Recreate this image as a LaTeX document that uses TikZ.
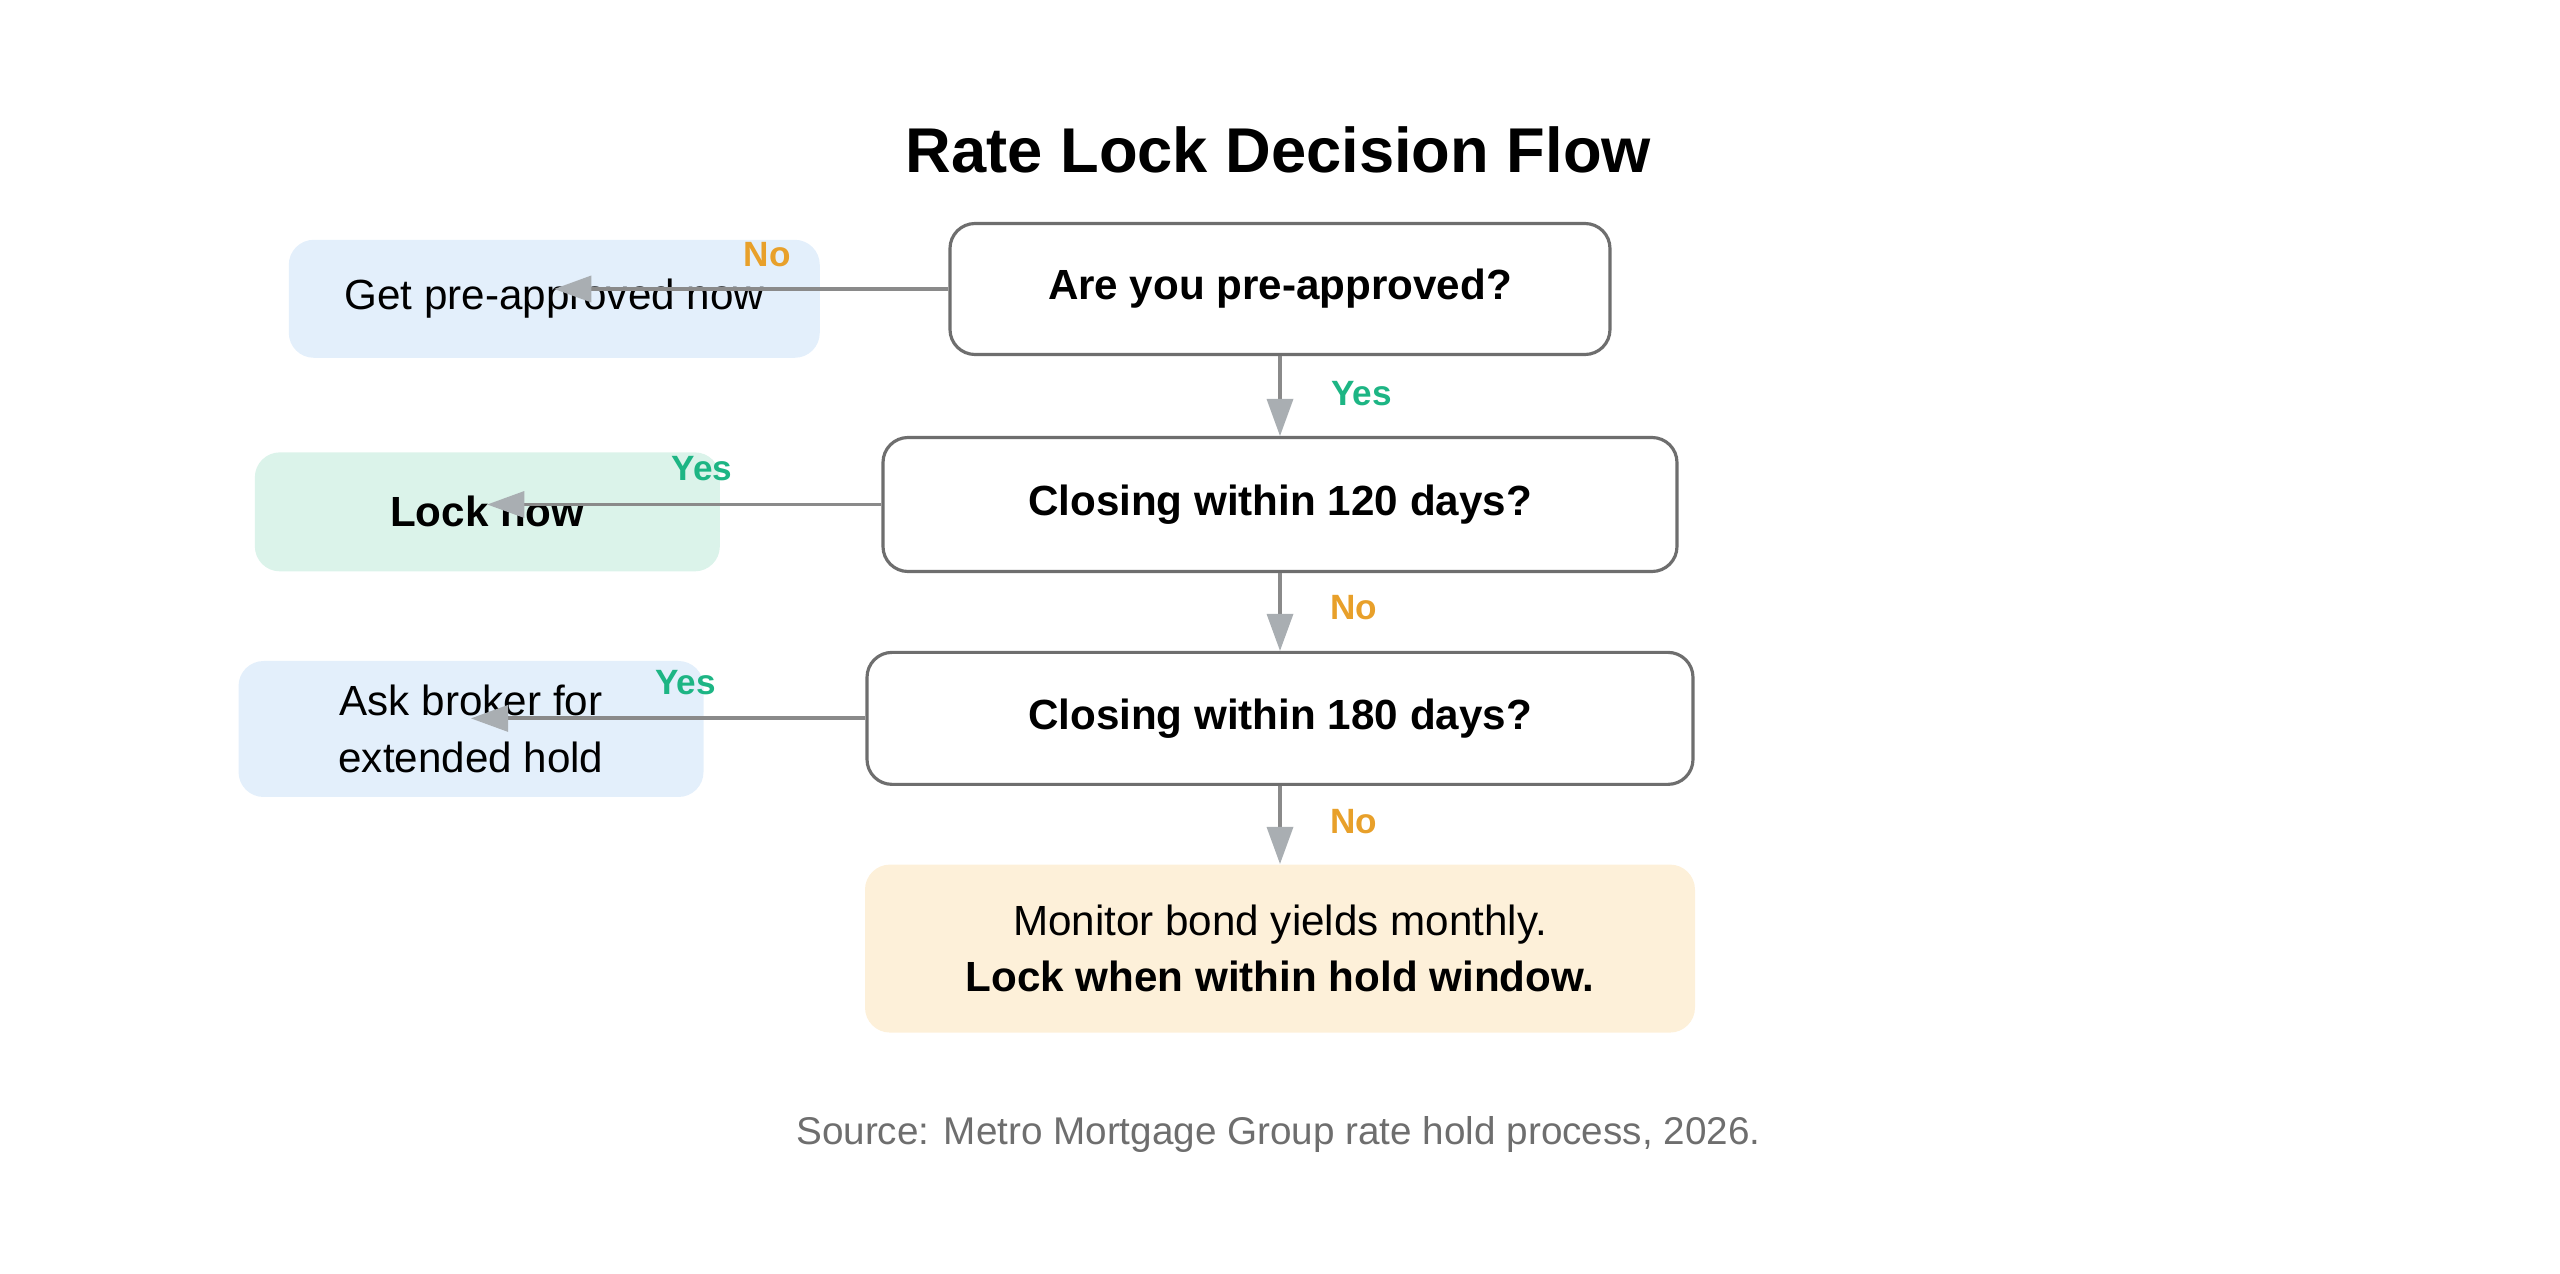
\documentclass[tikz,border=0pt]{standalone}
\usepackage{fontspec}
\setmainfont{Liberation Sans}
\usetikzlibrary{positioning,arrows.meta}
\definecolor{boxline}{HTML}{6E6E6E}
\definecolor{linkgray}{HTML}{8A8A8A}
\definecolor{headgray}{HTML}{A9AEB2}
\definecolor{askblue}{HTML}{E3EFFB}
\definecolor{lockgreen}{HTML}{DBF3EA}
\definecolor{endcream}{HTML}{FDF0D9}
\definecolor{yesgreen}{HTML}{1DB584}
\definecolor{noorange}{HTML}{E8A02A}
\tikzset{
  question/.style={draw=boxline,line width=0.9pt,fill=white,rounded corners=0.25cm,
    font=\fontsize{12}{14}\selectfont\bfseries,align=center},
  answer/.style={rounded corners=0.25cm,font=\fontsize{12}{16}\selectfont,align=center},
  link/.style={draw=linkgray,line width=1.1pt,
    -{Triangle[length=0.37cm,width=0.27cm,color=headgray,fill=headgray,line width=0pt]}},
  yeslabel/.style={text=yesgreen,font=\fontsize{10}{12}\selectfont\bfseries},
  nolabel/.style={text=noorange,font=\fontsize{10}{12}\selectfont\bfseries}
}
\begin{document}
\begin{tikzpicture}[x=0.01633cm,y=-0.01633cm]
  \useasboundingbox (0,0) rectangle (1568,780);
  \node[font=\fontsize{18}{20}\selectfont\bfseries] (title) at (783,92) {Rate Lock Decision Flow};

  % questions down the middle
  \node[question,minimum width=6.60cm,minimum height=1.31cm] (pre) at (784,177) {Are you pre-approved?};
  \node[question,minimum width=7.94cm,minimum height=1.34cm] (c120) at (784,309) {Closing within 120 days?};
  \node[question,minimum width=8.26cm,minimum height=1.32cm] (c180) at (784,440) {Closing within 180 days?};
  \node[answer,fill=endcream,minimum width=8.30cm,minimum height=1.68cm] (monitor) at (784,581)
    {Monitor bond yields monthly.\\\textbf{Lock when within hold window.}};

  % outcomes on the left
  \node[answer,fill=askblue,minimum width=5.31cm,minimum height=1.18cm] (getpre) at (339.5,183) {Get pre-approved now};
  \node[answer,fill=lockgreen,minimum width=4.65cm,minimum height=1.19cm,font=\fontsize{12}{14}\selectfont\bfseries] (locknow) at (298.5,313.5) {Lock now};
  \node[answer,fill=askblue,minimum width=4.65cm,minimum height=1.36cm] (broker) at (288.5,446.5) {Ask broker for\\extended hold};

  % connectors
  \draw[link] (pre.west) -- (getpre.center |- pre.west);
  \draw[link] (c120.west) -- (locknow.center |- c120.west);
  \draw[link] (c180.west) -- (broker.center |- c180.west);
  \draw[link] (pre.south) -- (c120.north);
  \draw[link] (c120.south) -- (c180.north);
  \draw[link] (c180.south) -- (monitor.north);

  \node[nolabel] (no1) at (470,156) {No};
  \node[yeslabel] (yes1) at (430,287) {Yes};
  \node[yeslabel] (yes2) at (420,418) {Yes};
  \node[yeslabel] (yes3) at (834,241) {Yes};
  \node[nolabel] (no2) at (829,372) {No};
  \node[nolabel] (no3) at (829,503) {No};

  \node[text=boxline,font=\fontsize{11}{13}\selectfont] (source) at (783,695) {Source: Metro Mortgage Group rate hold process, 2026.};
\end{tikzpicture}
\end{document}
